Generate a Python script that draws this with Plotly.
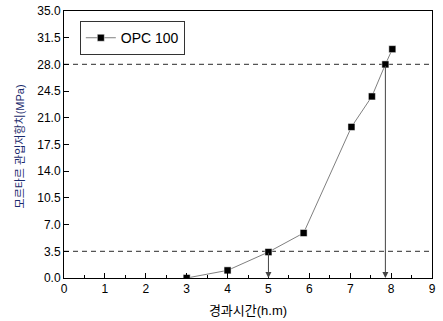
import plotly.graph_objects as go

time_h = [3.0, 4.0, 5.0, 5.86, 7.03, 7.53, 7.86, 8.03]
resistance = [0.0, 1.0, 3.4, 5.9, 19.8, 23.8, 28.0, 30.0]
series_name = "OPC 100"
thresholds = [3.5, 28.0]
set_times = [5.0, 7.86]
x_title = "경과시간(h.m)"
y_title = "모르타르 관입저항치(MPa)"

FONT = "Arial, Liberation Sans, Noto Sans CJK KR, sans-serif"

fig = go.Figure()
fig.add_trace(go.Scatter(
    x=time_h, y=resistance, mode="lines+markers", name=series_name,
    line=dict(color="#808080", width=1),
    marker=dict(symbol="square", size=7, color="black",
                line=dict(color="white", width=0.5)),
))

for t in thresholds:
    fig.add_shape(type="line", xref="paper", yref="y", x0=0, x1=1, y0=t, y1=t,
                  line=dict(color="#555555", width=1.2, dash="5px,4px"), layer="below")

for xt, yt in zip(set_times, thresholds):
    fig.add_annotation(x=xt, y=0, ax=xt, ay=yt, xref="x", yref="y",
                       axref="x", ayref="y", text="", showarrow=True,
                       arrowhead=2, arrowsize=1.2, arrowwidth=1,
                       arrowcolor="#444444")

fig.add_annotation(x=-0.1196, y=0.4925, xref="paper", yref="paper",
                   text=y_title, textangle=-90, showarrow=False,
                   xanchor="center", yanchor="middle",
                   font=dict(size=11, family=FONT, color="#1a2a6c"))

fig.update_layout(
    width=443, height=321,
    margin=dict(l=64, r=11, t=11, b=43, autoexpand=False),
    paper_bgcolor="white", plot_bgcolor="white",
    font=dict(family=FONT, size=12, color="black"),
    showlegend=True,
    legend=dict(x=0.043, y=0.962, xanchor="left", yanchor="top",
                bordercolor="#333333", borderwidth=1, bgcolor="white",
                font=dict(size=14, family=FONT), itemwidth=30,
                tracegroupgap=0),
)
fig.update_xaxes(
    range=[0, 9], dtick=1, tick0=0, ticks="inside", ticklen=5,
    tickcolor="black", showline=True, linecolor="black", linewidth=1,
    mirror=True, showgrid=False, zeroline=False, automargin=False,
    minor=dict(dtick=0.5, ticks="inside", ticklen=3, tickcolor="black"),
    title=dict(text=x_title, font=dict(size=13, family=FONT), standoff=10),
    tickfont=dict(size=12),
)
fig.update_yaxes(
    range=[0, 35], dtick=3.5, tick0=0, tickformat=".1f", ticks="inside",
    ticklen=5, tickcolor="black", showline=True, linecolor="black",
    linewidth=1, mirror=True, showgrid=False, zeroline=False, automargin=False,
    tickfont=dict(size=12),
)

fig.write_html("out.html")
